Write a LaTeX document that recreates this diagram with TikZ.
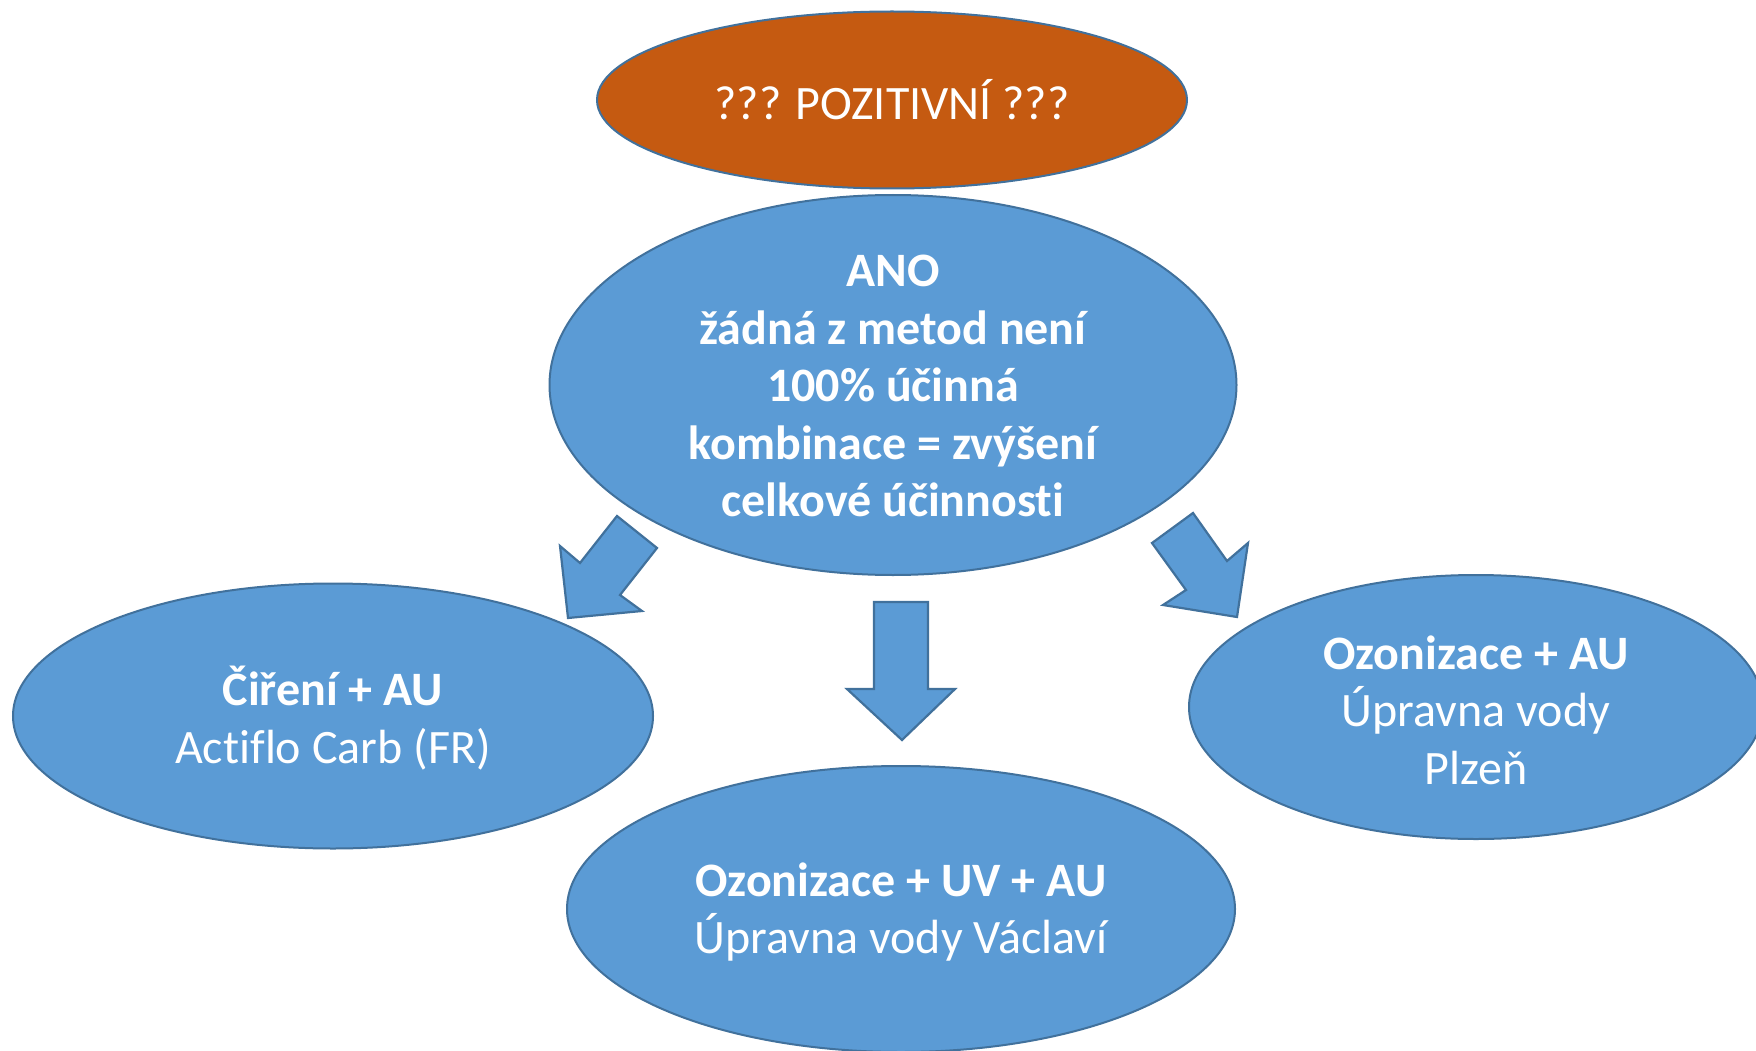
\documentclass[tikz,border=0pt]{standalone}
\usepackage{fontspec}
\setmainfont{Carlito}[Ligatures={NoCommon}]
\usetikzlibrary{shapes.geometric}
\definecolor{fillblue}{HTML}{5B9BD5}
\definecolor{edgeblue}{HTML}{41719C}
\definecolor{orangefill}{HTML}{C55A11}
\tikzset{
  oval/.style={ellipse, draw=edgeblue, line width=2pt, fill=fillblue, inner sep=0pt},
  txt/.style={text=white, align=center, font=\fontsize{48}{57.5}\selectfont},
  blockarrow/.style={draw=edgeblue, line width=2.2pt, fill=fillblue, line join=miter},
}
\begin{document}
\begin{tikzpicture}[x=1pt,y=-1pt]
\useasboundingbox (0,0) rectangle (1756,1051);
\fill[white] (0,0) rectangle (1756,1051);
% ellipses
\node[oval, fill=orangefill, minimum width=590pt, minimum height=177pt] (top) at (892,100) {};
\node[oval, minimum width=687pt, minimum height=380pt] (main) at (893,385) {};
\node[oval, minimum width=640pt, minimum height=265pt] (left) at (333,716) {};
\node[oval, minimum width=668pt, minimum height=286pt] (bottom) at (901,909) {};
\node[oval, minimum width=574pt, minimum height=264pt] (right) at (1476,707) {};
% texts
\node[txt] (toptxt) at (top.center) {??? POZITIVNÍ ???};
\node[txt, font=\bfseries\fontsize{48}{57.5}\selectfont] (maintxt) at (893,386) {ANO\\žádná z metod není\\100\% účinná\\kombinace = zvýšení\\celkové účinnosti};
\node[txt] (lefttxt) at (333,718) {\textbf{Čiření + AU}\\Actiflo Carb (FR)};
\node[txt] (bottomtxt) at (901,912) {\textbf{Ozonizace + UV + AU}\\Úpravna vody Václaví};
\node[txt] (righttxt) at (1476,710) {\textbf{Ozonizace + AU}\\Úpravna vody\\Plzeň};
% block arrows
\draw[blockarrow] (617,516) -- (657,548) -- (620,595) -- (642,611) -- (568,618) -- (560,546) -- (580,563) -- cycle;
\draw[blockarrow] (874,602) -- (928,602) -- (928,689) -- (955,689) -- (902,740) -- (847,689) -- (874,689) -- cycle;
\draw[blockarrow] (1152,543) -- (1193,513) -- (1227,561) -- (1248,543) -- (1237,617) -- (1163,605) -- (1186,590) -- cycle;
\end{tikzpicture}
\end{document}
